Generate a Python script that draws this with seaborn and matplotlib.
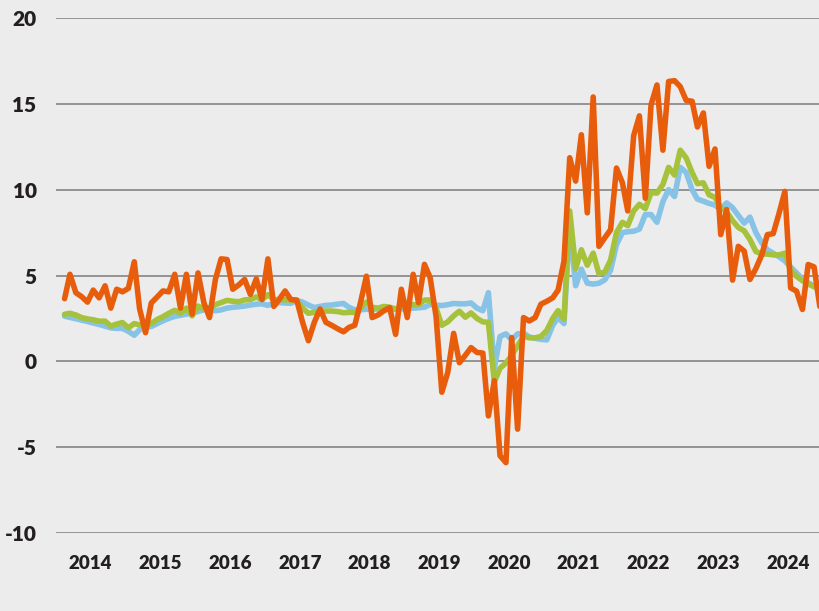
import pandas as pd
import matplotlib
matplotlib.use("Agg")
import matplotlib.pyplot as plt
import seaborn as sns

# monthly readings, Feb 2014 .. Dec 2024
blue = [2.63, 2.56, 2.48, 2.4, 2.32, 2.23, 2.15, 2.05, 1.95, 1.92,
        1.92, 1.75, 1.52, 1.85, 2.0, 2.03, 2.2, 2.36, 2.5, 2.62,
        2.68, 2.75, 2.82, 2.9, 3.0, 3.0, 2.95, 3.0, 3.1, 3.15,
        3.18, 3.22, 3.28, 3.33, 3.35, 3.26, 3.38, 3.42, 3.4, 3.38,
        3.55, 3.45, 3.28, 3.13, 3.2, 3.26, 3.28, 3.33, 3.37, 3.15,
        3.0, 3.0, 3.03, 3.03, 3.05, 3.03, 3.03, 3.03, 3.05, 3.07,
        3.1, 3.12, 3.15, 3.32, 3.27, 3.25, 3.3, 3.37, 3.35, 3.35,
        3.4, 3.1, 2.95, 4.0, -0.4, 1.45, 1.6, 1.25, 1.6, 1.65,
        1.42, 1.34, 1.28, 1.25, 2.1, 2.55, 2.2, 8.0, 4.4, 5.37,
        4.55, 4.5, 4.55, 4.75, 5.3, 6.8, 7.5, 7.55, 7.58, 7.7,
        8.55, 8.55, 8.1, 9.3, 10.0, 9.6, 11.3, 11.0, 10.0, 9.45,
        9.33, 9.2, 9.1, 8.84, 9.23, 8.95, 8.5, 8.05, 8.4, 7.5,
        6.9, 6.5, 6.3, 6.1, 5.85, 5.5, 5.15, 4.8, 4.58, 4.38, 4.1]

green = [2.74, 2.8, 2.7, 2.55, 2.47, 2.42, 2.34, 2.34, 2.05, 2.17,
         2.26, 1.95, 2.2, 2.12, 2.12, 2.2, 2.44, 2.6, 2.8, 2.97,
         2.8, 3.1, 2.65, 3.22, 3.05, 3.12, 3.3, 3.42, 3.55, 3.5,
         3.47, 3.58, 3.6, 3.75, 3.6, 3.88, 3.6, 3.6, 3.58, 3.57,
         3.5, 3.1, 2.8, 2.85, 2.9, 2.93, 2.93, 2.9, 2.83, 2.85,
         2.85, 3.1, 3.45, 3.15, 3.1, 3.2, 3.15, 3.05, 3.2, 3.38,
         3.3, 3.3, 3.57, 3.57, 3.1, 2.1, 2.3, 2.65, 2.92, 2.57,
         2.82, 2.5, 2.3, 2.27, -1.2, -0.4, -0.1, 0.35, 0.9, 1.47,
         1.37, 1.37, 1.45, 1.8, 2.5, 2.95, 2.45, 8.76, 5.4, 6.5,
         5.6, 6.3, 5.1, 5.2, 5.9, 7.5, 8.1, 7.9, 8.76, 9.15,
         8.9, 9.83, 9.8, 10.3, 11.3, 10.85, 12.3, 11.85, 11.0, 10.35,
         10.4, 9.7, 9.55, 8.95, 8.7, 8.2, 7.8, 7.6, 7.09, 6.4,
         6.25, 6.25, 6.2, 6.2, 6.3, 5.3, 4.95, 4.7, 4.5, 4.35, 4.2]

orange = [3.65, 5.07, 4.0, 3.77, 3.45, 4.15, 3.7, 4.4, 3.1, 4.2,
          4.05, 4.25, 5.8, 3.05, 1.67, 3.4, 3.75, 4.1, 4.05, 5.07,
          3.1, 5.07, 2.75, 5.15, 3.4, 2.55, 4.77, 5.97, 5.93, 4.2,
          4.45, 4.77, 3.9, 4.8, 3.6, 5.97, 3.2, 3.6, 4.1, 3.6,
          3.57, 2.3, 1.2, 2.27, 3.05, 2.27, 2.1, 1.9, 1.72, 1.97,
          2.1, 3.42, 4.96, 2.55, 2.7, 2.95, 3.13, 1.57, 4.2, 2.55,
          5.07, 3.42, 5.65, 4.87, 2.6, -1.8, -0.65, 1.63, -0.08, 0.35,
          0.8, 0.52, 0.48, -3.18, -1.13, -5.5, -5.9, 1.38, -3.95, 2.55,
          2.35, 2.55, 3.33, 3.5, 3.7, 4.15, 5.84, 11.86, 10.5, 13.2,
          8.65, 15.4, 6.7, 7.2, 7.67, 11.26, 10.4, 8.76, 13.15, 14.3,
          9.5, 14.95, 16.1, 12.3, 16.3, 16.35, 16.0, 15.2, 15.15, 13.65,
          14.47, 11.36, 12.37, 7.38, 8.84, 4.73, 6.7, 6.42, 4.77, 5.4,
          6.2, 7.38, 7.44, 8.6, 9.9, 4.28, 4.09, 3.02, 5.64, 5.5, 3.2]

years = list(range(2014, 2025))
y_ticks = [-10, -5, 0, 5, 10, 15, 20]

dates = pd.date_range("2014-02-01", periods=len(orange), freq="MS") + pd.Timedelta(days=14)
df = pd.DataFrame({"date": dates, "blue": blue, "green": green, "orange": orange})
long = df.melt(id_vars="date", var_name="series", value_name="value")

bg = "#ececec"
sns.set_style("white", {"axes.facecolor": bg, "figure.facecolor": bg})
plt.rcParams["font.family"] = ["Lato", "DejaVu Sans"]
plt.rcParams["axes.unicode_minus"] = False

fig, ax = plt.subplots(figsize=(8.2, 6.11), dpi=100)
fig.subplots_adjust(left=56 / 820, right=1.0, top=1 - 18 / 611, bottom=1 - 533 / 611)

sns.lineplot(data=long, x="date", y="value", hue="series",
             palette={"blue": "#86c3e6", "green": "#a6c23c", "orange": "#e85d0c"},
             hue_order=["blue", "green", "orange"], linewidth=4.0, legend=False, ax=ax)

ax.set_ylim(-10, 20)
ax.set_yticks(y_ticks)
ax.set_xlim(pd.Timestamp("2014-01-01"), pd.Timestamp("2024-12-16"))
ax.set_xticks([pd.Timestamp(f"{y}-07-01") for y in years])
ax.set_xticklabels([str(y) for y in years])
ax.yaxis.grid(True, color="#8c8c8c", linewidth=1.3)
ax.set_axisbelow(True)
for s in ax.spines.values():
    s.set_visible(False)
ax.tick_params(axis="both", length=0, labelsize=13.5, labelcolor="#231f20")
ax.tick_params(axis="y", pad=14, labelsize=15)
ax.tick_params(axis="x", pad=16)
for lab in ax.get_xticklabels() + ax.get_yticklabels():
    lab.set_fontweight("heavy")
ax.set_xlabel("")
ax.set_ylabel("")

fig.savefig("out.png", dpi=100, facecolor=bg)
